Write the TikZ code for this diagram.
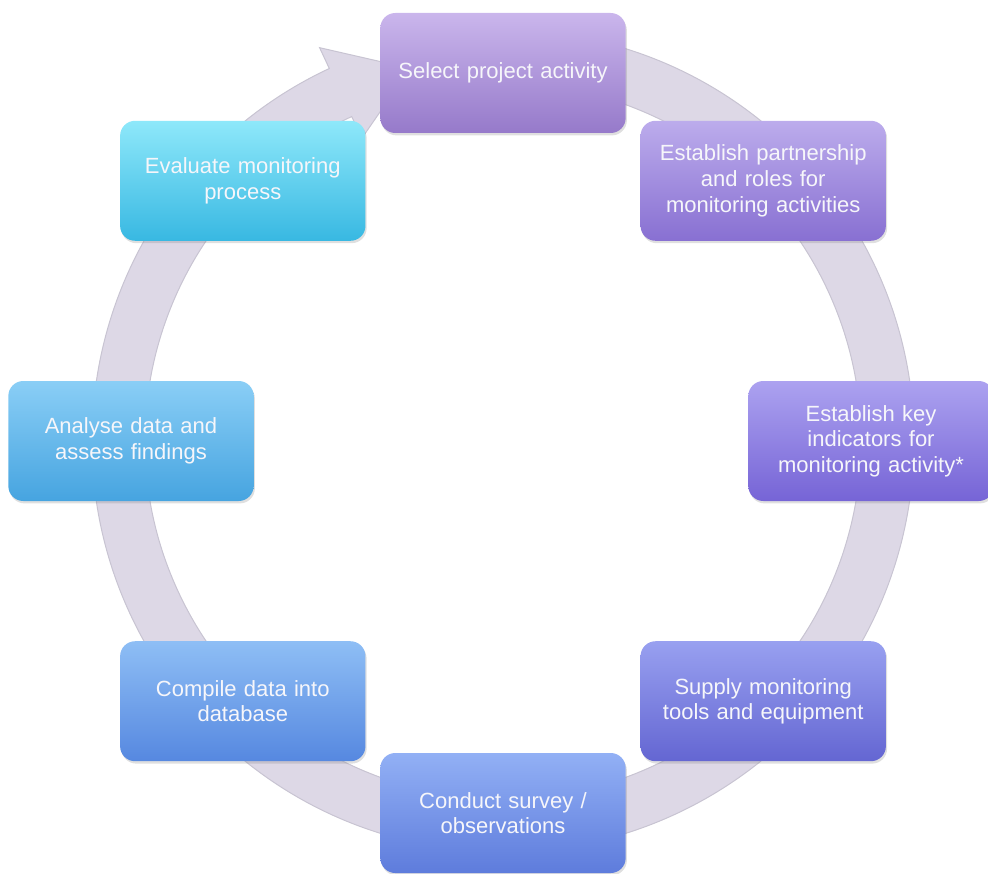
\documentclass[tikz,border=0pt]{standalone}
\usepackage{fontspec}
\setmainfont{Liberation Sans}
\usetikzlibrary{shadows}
\usetikzlibrary{positioning}

\definecolor{ringfill}{RGB}{221,216,230}
\definecolor{ringedge}{RGB}{200,196,210}
\definecolor{boxtext}{RGB}{246,246,250}
\definecolor{selA}{RGB}{202,182,236}\definecolor{selB}{RGB}{150,122,202}
\definecolor{parA}{RGB}{188,172,236}\definecolor{parB}{RGB}{136,112,210}
\definecolor{keyA}{RGB}{172,162,240}\definecolor{keyB}{RGB}{118,100,214}
\definecolor{supA}{RGB}{152,160,240}\definecolor{supB}{RGB}{100,102,210}
\definecolor{conA}{RGB}{146,176,245}\definecolor{conB}{RGB}{94,124,220}
\definecolor{comA}{RGB}{142,190,245}\definecolor{comB}{RGB}{86,136,224}
\definecolor{anaA}{RGB}{138,206,246}\definecolor{anaB}{RGB}{70,164,224}
\definecolor{evaA}{RGB}{142,232,250}\definecolor{evaB}{RGB}{56,184,226}

\begin{document}
\begin{tikzpicture}[
    every node/.style={font=\fontsize{11}{12.8}\selectfont},
    stepbox/.style={rounded corners=7.5pt, minimum width=121.5pt, minimum height=60pt,
      text width=116pt, align=center, text=boxtext,
      drop shadow={opacity=0.25, shadow xshift=0.6pt, shadow yshift=-1.2pt}}]
  \useasboundingbox (-251.5pt,-216pt) rectangle (242.5pt,220.5pt);
  \coordinate (c) at (0,0);

  % the circular arrow behind the boxes
  \filldraw[fill=ringfill, draw=ringedge, line width=0.5pt]
    ([shift={(80:205.5pt)}]c) arc[start angle=80, end angle=-245, radius=205.5pt]
    -- ([shift={(-245:217pt)}]c) -- ([shift={(-256:192pt)}]c)
    -- ([shift={(-245:167pt)}]c) -- ([shift={(-245:179pt)}]c)
    arc[start angle=-245, end angle=80, radius=179pt] -- cycle;

  \node[stepbox, top color=selA, bottom color=selB] (s1) at (90:184pt) {Select project activity};
  \node[stepbox, top color=parA, bottom color=parB] (s2) at (45:184pt) {Establish partnership\\ and roles for\\ monitoring activities};
  \node[stepbox, top color=keyA, bottom color=keyB] (s3) at (0:184pt) {Establish key\\ indicators for\\ monitoring activity*};
  \node[stepbox, top color=supA, bottom color=supB] (s4) at (-45:184pt) {Supply monitoring\\ tools and equipment};
  \node[stepbox, top color=conA, bottom color=conB] (s5) at (-90:186pt) {Conduct survey /\\ observations};
  \node[stepbox, top color=comA, bottom color=comB] (s6) at (-135:184pt) {Compile data into\\ database};
  \node[stepbox, top color=anaA, bottom color=anaB] (s7) at (180:186pt) {Analyse data and\\ assess findings};
  \node[stepbox, top color=evaA, bottom color=evaB] (s8) at (135:184pt) {Evaluate monitoring\\ process};
\end{tikzpicture}
\end{document}
